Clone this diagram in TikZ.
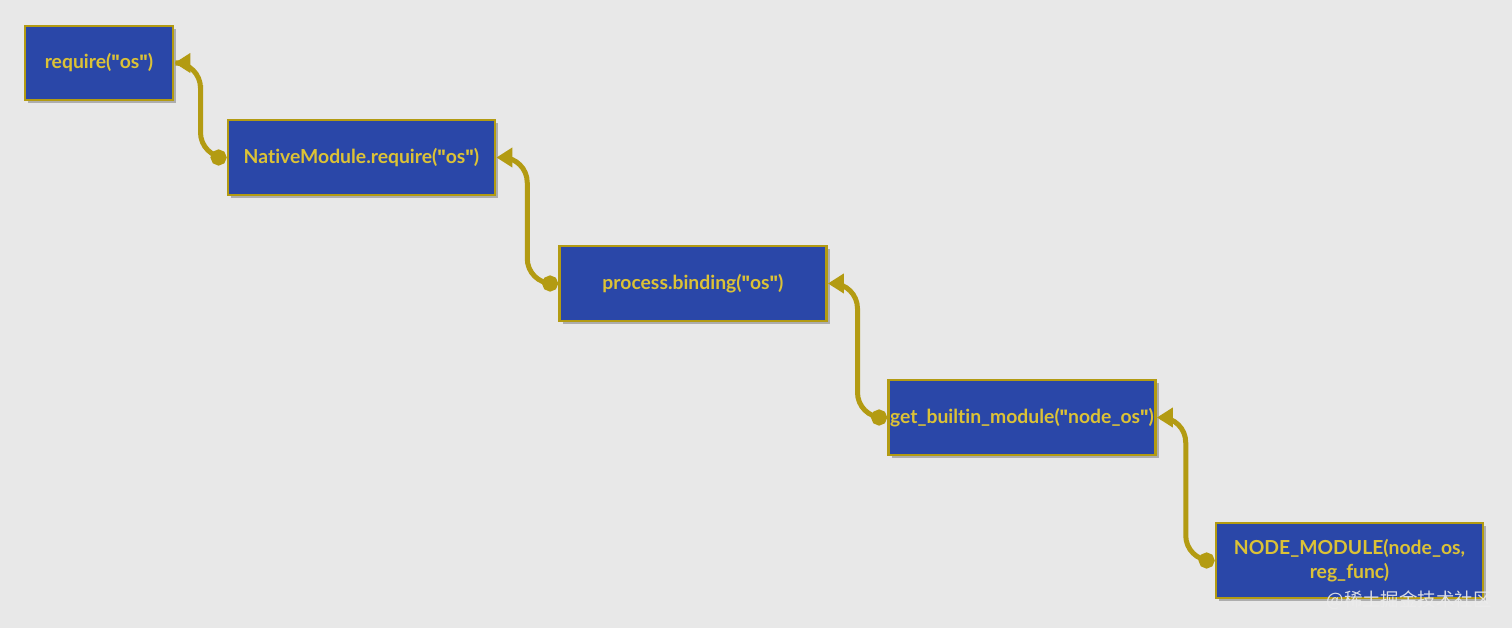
\documentclass[tikz,border=0pt]{standalone}
\usepackage{fontspec}
\setsansfont{Lato}[Ligatures={NoCommon}]
\newfontfamily\quotefont{Fira Sans}
\newfontfamily\cjk{Noto Sans CJK SC}
\usetikzlibrary{arrows.meta, positioning, calc, shadows}
\definecolor{bgGray}{HTML}{E8E8E8}
\definecolor{boxBlue}{HTML}{2A47A8}
\definecolor{edgeGold}{HTML}{B39B12}
\definecolor{textGold}{HTML}{DCC236}
\newcommand{\dq}{{\quotefont\bfseries\symbol{34}}}
\tikzstyle{callbox} = [rectangle, minimum width=5.34cm, minimum height=1.5cm, align=center, inner xsep=0pt, inner ysep=1mm, draw=edgeGold, line width=1.6pt, fill=boxBlue, text=textGold, font=\sffamily\bfseries\fontsize{11}{14}\selectfont, drop shadow={shadow xshift=0.06cm, shadow yshift=-0.06cm, fill=black, opacity=0.25}]
\tikzstyle{link} = [edgeGold, line width=0.1cm, rounded corners=0.5cm, {Circle[length=0.32cm]}-{Triangle[length=0.32cm, width=0.38cm]}]

\begin{document}
\begin{tikzpicture}
      \fill[bgGray] (0,0) rectangle (30.24,-12.56);
      \useasboundingbox (0,0) rectangle (30.24,-12.56);

      % call chain, top left to bottom right
      \node[callbox, minimum width=2.96cm, minimum height=1.48cm] (req) at (1.98,-1.26) {require(\dq os\dq)};
      \node[callbox] (natmod) at (7.23,-3.15) {NativeModule.require(\dq os\dq)};
      \node[callbox] (binding) at (13.86,-5.67) {process.binding(\dq os\dq)};
      \node[callbox] (builtin) at (20.44,-8.35) {get\_builtin\_module(\dq node\_os\dq)};
      \node[callbox] (nodemod) at (26.99,-11.21) {NODE\_MODULE(node\_os,\\reg\_func)};

      % watermark
      \node[text=white!85!gray, opacity=0.9, font=\cjk\fontsize{10.5}{12}\selectfont, anchor=east, inner sep=0pt] (wm) at (29.84,-12.0) {@稀土掘金技术社区};

      % connectors
      \draw[link] (natmod.west) -| ($(natmod.west)!0.5!(req.east)$) |- (req.east);
      \draw[link] (binding.west) -| ($(binding.west)!0.5!(natmod.east)$) |- (natmod.east);
      \draw[link] (builtin.west) -| ($(builtin.west)!0.5!(binding.east)$) |- (binding.east);
      \draw[link] (nodemod.west) -| ($(nodemod.west)!0.5!(builtin.east)$) |- (builtin.east);
\end{tikzpicture}
\end{document}
